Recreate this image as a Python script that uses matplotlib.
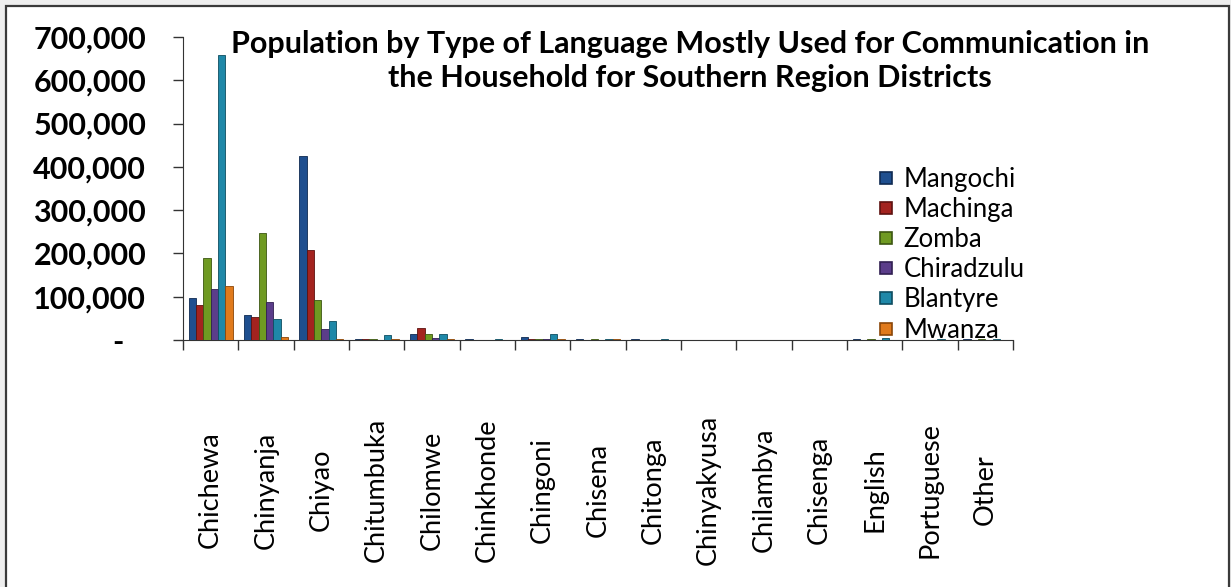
import matplotlib
matplotlib.use("Agg")
import matplotlib.pyplot as plt
from matplotlib.patches import Rectangle
from matplotlib.lines import Line2D
import numpy as np

plt.rcParams['font.family'] = ['Lato', 'DejaVu Sans']

languages = ["Chichewa", "Chinyanja", "Chiyao", "Chitumbuka", "Chilomwe", "Chinkhonde",
             "Chingoni", "Chisena", "Chitonga", "Chinyakyusa", "Chilambya", "Chisenga",
             "English", "Portuguese", "Other"]
districts = ["Mangochi", "Machinga", "Zomba", "Chiradzulu", "Blantyre", "Mwanza"]

mangochi   = [98000, 58000, 425000, 3000, 15000, 1500, 7000, 1500, 1500, 1000, 800, 800, 1500, 800, 1500]
machinga   = [81000, 53000, 207000, 1200, 28000, 800, 1500, 1000, 800, 500, 500, 500, 800, 500, 1000]
zomba      = [189000, 248000, 92000, 1500, 13000, 1000, 2000, 1200, 1000, 600, 500, 600, 1500, 600, 1200]
chiradzulu = [117000, 87000, 25000, 1000, 4000, 600, 1500, 800, 800, 400, 400, 400, 800, 400, 800]
blantyre   = [659000, 48000, 45000, 12000, 15000, 1500, 13000, 3000, 1500, 1000, 800, 1000, 5000, 1200, 2000]
mwanza     = [125000, 6000, 2000, 1500, 2000, 800, 3000, 1500, 1000, 600, 500, 600, 800, 500, 800]

series = [mangochi, machinga, zomba, chiradzulu, blantyre, mwanza]
colors = ["#1f4f8f", "#a3231f", "#6f9a22", "#5b3d8a", "#1f88a8", "#e07a1c"]
edges  = ["#0f2a52", "#5e1210", "#3c5612", "#311f52", "#0e4d60", "#8a4608"]

yticks = [0, 100000, 200000, 300000, 400000, 500000, 600000, 700000]
ylabels = ["-   "] + [f"{v:,}" for v in yticks[1:]]

W, H = 1231, 587
fig = plt.figure(figsize=(W / 100, H / 100), dpi=100)
fig.patch.set_facecolor("#eeeeee")
fig.patches.append(Rectangle((6 / W, -0.02), (1229 - 6) / W, 1.02 - 6 / H,
                             transform=fig.transFigure, facecolor="white",
                             edgecolor="#3a3a3a", linewidth=1.6, zorder=-5))

ax = fig.add_axes([183 / W, 1 - 340 / H, 830 / W, 303 / H])
ax.set_zorder(2)
ax.set_facecolor("none")

n = len(languages)
x = np.arange(n)
bw = 0.133
offsets = (np.arange(len(series)) - (len(series) - 1) / 2) * bw
for i, (vals, c, ec) in enumerate(zip(series, colors, edges)):
    ax.bar(x + offsets[i], vals, width=bw, color=c, edgecolor=ec, linewidth=0.6, zorder=3)

ax.set_xlim(-0.5, n - 0.5)
ax.set_ylim(0, 700000)

ax.spines['top'].set_visible(False)
ax.spines['right'].set_visible(False)
ax.spines['left'].set_color("#333333")
ax.spines['bottom'].set_color("#333333")

ax.set_yticks(yticks)
ax.set_yticklabels(ylabels, fontsize=22, fontweight='bold')
ax.tick_params(axis='y', direction='out', length=7.5, width=1, color="#333333", pad=19)

ax.set_xticks(x)
ax.set_xticklabels(languages, rotation=90, fontsize=19.5, va='center', ha='center')
ax.tick_params(axis='x', which='major', length=0, pad=108)
ax.set_xticks(np.arange(n + 1) - 0.5, minor=True)
ax.tick_params(axis='x', which='minor', direction='out', length=7.5, width=1, color="#333333")

handles = [Line2D([0], [0], marker='s', linestyle='none', markersize=9,
                  markerfacecolor=c, markeredgecolor=ec, markeredgewidth=1.2)
           for c, ec in zip(colors, edges)]
fig.legend(handles, districts, loc='upper left', bbox_to_anchor=(865 / W, 1 - 154 / H),
           frameon=False, fontsize=18.5, handlelength=0.6, handletextpad=0.4,
           labelspacing=0.2, borderpad=0)

fig.text(690 / W, 1 - 61 / H,
         "Population by Type of Language Mostly Used for Communication in\nthe Household for Southern Region Districts",
         ha='center', va='center', fontsize=22, fontweight='bold', linespacing=1.3)

fig.savefig("out.png", dpi=100, facecolor=fig.get_facecolor())
